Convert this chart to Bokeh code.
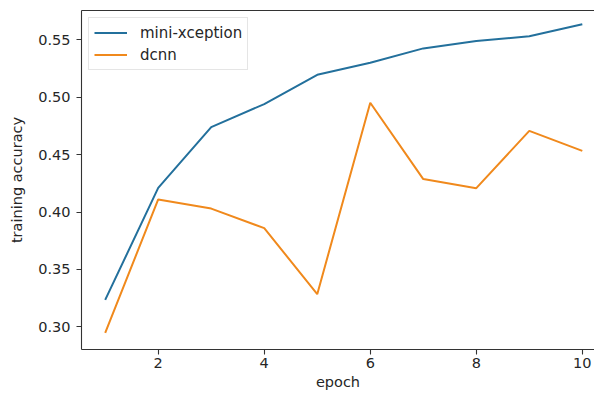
from bokeh.plotting import figure
from bokeh.models import Range1d, LinearAxis, FixedTicker, Legend, LegendItem
from bokeh.embed import file_html
from bokeh.resources import INLINE

epochs = [1, 2, 3, 4, 5, 6, 7, 8, 9, 10]
mini_xception = [0.3235, 0.421, 0.474, 0.494, 0.5195, 0.530, 0.5425, 0.549, 0.553, 0.5635]
dcnn = [0.2948, 0.411, 0.403, 0.386, 0.3285, 0.4952, 0.4287, 0.4208, 0.4707, 0.4533]
x_ticks = [2, 4, 6, 8, 10]
y_ticks = [0.30, 0.35, 0.40, 0.45, 0.50, 0.55]
y_tick_labels = {0.30: "0.30", 0.35: "0.35", 0.40: "0.40", 0.45: "0.45", 0.50: "0.50", 0.55: "0.55"}

FONT = "DejaVu Sans"
TXT = "#262626"
AX = "#333333"

p = figure(width=594, height=394, output_backend="svg", toolbar_location=None,
           x_range=Range1d(0.553, 10.23), y_range=Range1d(0.2803, 0.5755),
           min_border_left=81, min_border_top=10, min_border_bottom=45, min_border_right=0,
           background_fill_color="white", border_fill_color="white")
p.outline_line_color = None
p.xgrid.visible = False
p.ygrid.visible = False

r1 = p.line(epochs, mini_xception, line_color="#23709c", line_width=2)
r2 = p.line(epochs, dcnn, line_color="#f0891c", line_width=2)

for ax in (p.xaxis[0], p.yaxis[0]):
    ax.axis_line_color = AX
    ax.axis_line_width = 1.1
    ax.major_tick_line_color = AX
    ax.major_tick_line_width = 1.1
    ax.major_tick_out = 5
    ax.major_tick_in = 0
    ax.minor_tick_line_color = None
    ax.major_label_text_font = FONT
    ax.major_label_text_font_size = "14.5px"
    ax.major_label_text_color = TXT
    ax.axis_label_text_font = FONT
    ax.axis_label_text_font_size = "14.5px"
    ax.axis_label_text_font_style = "normal"
    ax.axis_label_text_color = TXT

p.xaxis[0].ticker = FixedTicker(ticks=x_ticks)
p.yaxis[0].ticker = FixedTicker(ticks=y_ticks)
p.yaxis[0].major_label_overrides = y_tick_labels
p.xaxis[0].axis_label = "epoch"
p.yaxis[0].axis_label = "training accuracy"
p.xaxis[0].major_label_standoff = 3
p.yaxis[0].major_label_standoff = 6
p.xaxis[0].axis_label_standoff = 3
p.yaxis[0].axis_label_standoff = 10

top = LinearAxis(ticker=FixedTicker(ticks=[]), axis_line_color=AX, axis_line_width=1.1,
                 major_tick_out=0, major_tick_in=0, minor_tick_out=0, minor_tick_in=0,
                 major_tick_line_color=None, minor_tick_line_color=None,
                 major_label_text_font_size="0px", major_label_standoff=0)
p.add_layout(top, "above")

legend = Legend(items=[LegendItem(label="mini-xception", renderers=[r1]),
                       LegendItem(label="dcnn", renderers=[r2])],
                location="top_left", margin=7, padding=5, spacing=3,
                glyph_width=33, glyph_height=19, label_standoff=13,
                label_text_font=FONT, label_text_font_size="15px", label_text_color=TXT,
                border_line_color="#cccccc", border_line_width=1,
                background_fill_color="white", background_fill_alpha=0.8)
p.add_layout(legend, "center")

open("out.html", "w").write(file_html(p, INLINE))
